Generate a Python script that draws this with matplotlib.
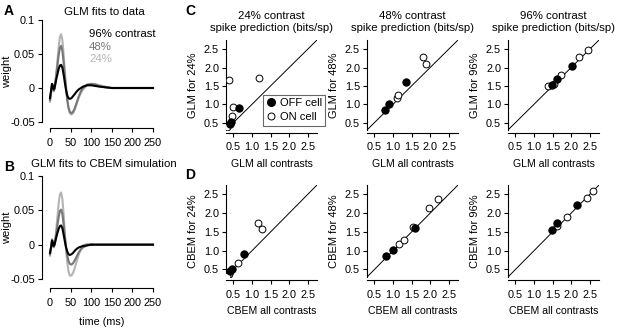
import matplotlib
matplotlib.use('Agg')
import matplotlib.pyplot as plt
from matplotlib.lines import Line2D

# figure size in pixels
W, H = 617, 329

plt.rcParams['font.family'] = ['Liberation Sans', 'DejaVu Sans']
plt.rcParams['font.size'] = 7.5

# ---- temporal filters (panels A and B) ----
t_ms = [0, 3, 5, 7, 9, 11, 13, 15, 18, 21, 24, 27, 30, 33, 36, 39, 42, 45, 48, 52,
        56, 60, 65, 70, 75, 80, 90, 100, 110, 120, 135, 150, 200, 250]

glm_data_96 = [-0.015, -0.002, 0.006, 0.003, -0.002, 0.000, 0.006, 0.012, 0.020, 0.028,
               0.033, 0.034, 0.030, 0.020, 0.008, -0.003, -0.011, -0.015, -0.016, -0.015,
               -0.012, -0.009, -0.005, -0.002, 0.000, 0.002, 0.004, 0.004, 0.003, 0.002,
               0.001, 0.000, 0.000, 0.000]
glm_data_48 = [-0.018, -0.004, 0.006, 0.002, -0.004, -0.001, 0.008, 0.018, 0.033, 0.048,
               0.059, 0.062, 0.055, 0.038, 0.018, -0.002, -0.018, -0.029, -0.035, -0.037,
               -0.035, -0.030, -0.021, -0.012, -0.005, 0.000, 0.005, 0.006, 0.005, 0.003,
               0.001, 0.000, 0.000, 0.000]
glm_data_24 = [-0.020, -0.005, 0.006, 0.002, -0.005, -0.002, 0.008, 0.020, 0.040, 0.060,
               0.075, 0.079, 0.071, 0.050, 0.025, 0.002, -0.017, -0.030, -0.037, -0.039,
               -0.037, -0.032, -0.023, -0.014, -0.007, -0.002, 0.004, 0.006, 0.006, 0.004,
               0.002, 0.000, 0.000, 0.000]

glm_sim_96 = [-0.012, -0.002, 0.006, 0.003, -0.002, 0.000, 0.005, 0.010, 0.017, 0.023,
              0.027, 0.028, 0.024, 0.015, 0.005, -0.004, -0.010, -0.014, -0.015, -0.014,
              -0.012, -0.009, -0.006, -0.004, -0.003, -0.002, -0.001, 0.000, 0.000, 0.000,
              0.000, 0.000, 0.000, 0.000]
glm_sim_48 = [-0.014, -0.003, 0.007, 0.003, -0.003, 0.000, 0.007, 0.015, 0.028, 0.040,
              0.049, 0.051, 0.045, 0.030, 0.012, -0.004, -0.016, -0.024, -0.028, -0.029,
              -0.027, -0.023, -0.017, -0.011, -0.007, -0.004, -0.001, 0.000, 0.000, 0.000,
              0.000, 0.000, 0.000, 0.000]
glm_sim_24 = [-0.016, -0.004, 0.008, 0.003, -0.004, 0.000, 0.009, 0.021, 0.040, 0.060,
              0.073, 0.076, 0.067, 0.045, 0.018, -0.007, -0.026, -0.039, -0.045, -0.045,
              -0.041, -0.034, -0.024, -0.014, -0.006, -0.001, 0.001, 0.001, 0.000, 0.000,
              0.000, 0.000, 0.000, 0.000]

# ---- spike prediction (bits/sp), panels C and D ----
glm24_off_x = [0.65, 0.43, 0.42]
glm24_off_y = [0.90, 0.52, 0.45]
glm24_on_x = [0.38, 1.20, 0.48, 0.47, 0.34]
glm24_on_y = [1.65, 1.72, 0.92, 0.68, 0.38]

glm48_off_x = [0.78, 0.90, 1.35]
glm48_off_y = [0.85, 1.00, 1.60]
glm48_on_x = [1.10, 1.13, 1.82, 1.90]
glm48_on_y = [1.18, 1.26, 2.30, 2.10]

glm96_off_x = [1.48, 1.62, 2.02]
glm96_off_y = [1.52, 1.70, 2.03]
glm96_on_x = [1.39, 1.55, 1.72, 2.20, 2.45]
glm96_on_y = [1.49, 1.56, 1.80, 2.28, 2.48]

cbem24_off_x = [0.78, 0.45, 0.42]
cbem24_off_y = [0.90, 0.50, 0.45]
cbem24_on_x = [1.15, 1.28, 0.63, 0.38, 0.34]
cbem24_on_y = [1.75, 1.57, 0.68, 0.37, 0.33]

cbem48_off_x = [0.80, 1.00, 1.60]
cbem48_off_y = [0.86, 1.02, 1.60]
cbem48_on_x = [1.15, 1.30, 1.55, 1.97, 2.22]
cbem48_on_y = [1.18, 1.28, 1.62, 2.15, 2.37]

cbem96_off_x = [1.49, 1.62, 2.16]
cbem96_off_y = [1.55, 1.73, 2.21]
cbem96_on_x = [1.63, 1.90, 2.42, 2.60]
cbem96_on_y = [1.65, 1.90, 2.40, 2.60]

contrast_labels = ['24%', '48%', '96%']
bits_ticks = [0.5, 1.0, 1.5, 2.0, 2.5]

col96, col48, col24 = 'black', '#777777', '#b4b4b4'


def box(l, t, r, b):
    # pixel box -> figure fraction
    return [l / W, 1 - b / H, (r - l) / W, (b - t) / H]


def style_axes(ax):
    for s in ['top', 'right']:
        ax.spines[s].set_visible(False)
    for s in ['left', 'bottom']:
        ax.spines[s].set_linewidth(0.8)
    ax.tick_params(length=3, width=0.8, labelsize=7.8)
    ax.tick_params(axis='y', pad=2)
    ax.tick_params(axis='x', pad=4)


fig = plt.figure(figsize=(W / 100, H / 100), dpi=100)


def filter_panel(rect, ylim, curves):
    ax = fig.add_axes(box(*rect))
    for y, c in curves:
        ax.plot(t_ms, y, color=c, lw=1.5)
    ax.set_xlim(-19.4, 259.7)
    ax.set_ylim(*ylim)
    style_axes(ax)
    ax.spines['left'].set_bounds(-0.05, 0.1)
    ax.spines['bottom'].set_bounds(0, 250)
    ax.set_yticks([-0.05, 0, 0.05, 0.1])
    ax.set_yticklabels(['-0.05', '0', '0.05', '0.1'])
    ax.set_xticks([0, 50, 100, 150, 200, 250])
    return ax


axA = filter_panel((42, 18, 157, 128), (-0.0588, 0.1029),
                   [(glm_data_24, col24), (glm_data_48, col48), (glm_data_96, col96)])
axB = filter_panel((42, 174, 157, 288), (-0.0631, 0.1029),
                   [(glm_sim_24, col24), (glm_sim_48, col48), (glm_sim_96, col96)])

fig.text(104 / W, 1 - 12 / H, 'GLM fits to data', ha='center', va='center', fontsize=8.2)
fig.text(104 / W, 1 - 164 / H, 'GLM fits to CBEM simulation', ha='center', va='center', fontsize=8.2)
fig.text(89 / W, 1 - 34 / H, '96% contrast', color=col96, va='center', fontsize=8.2)
fig.text(89 / W, 1 - 47 / H, '48%', color=col48, va='center', fontsize=8.2)
fig.text(89 / W, 1 - 59 / H, '24%', color=col24, va='center', fontsize=8.2)
fig.text(7 / W, 1 - 72 / H, 'weight', rotation=90, ha='center', va='center', fontsize=8)
fig.text(7 / W, 1 - 228 / H, 'weight', rotation=90, ha='center', va='center', fontsize=8)
fig.text(102 / W, 1 - 322 / H, 'time (ms)', ha='center', va='center', fontsize=7.8)

# panel letters
for letter, x, y in [('A', 9, 11), ('B', 9, 167), ('C', 190, 11), ('D', 190, 175)]:
    fig.text(x / W, 1 - y / H, letter, ha='center', va='center', fontsize=10, fontweight='bold')

# scatter panels
scatter_data = [
    [(glm24_off_x, glm24_off_y, glm24_on_x, glm24_on_y),
     (glm48_off_x, glm48_off_y, glm48_on_x, glm48_on_y),
     (glm96_off_x, glm96_off_y, glm96_on_x, glm96_on_y)],
    [(cbem24_off_x, cbem24_off_y, cbem24_on_x, cbem24_on_y),
     (cbem48_off_x, cbem48_off_y, cbem48_on_x, cbem48_on_y),
     (cbem96_off_x, cbem96_off_y, cbem96_on_x, cbem96_on_y)],
]
col_left = [226, 367, 508]
row_top = [(40, 130), (185, 277)]
model_names = ['GLM', 'CBEM']

for r, (t, b) in enumerate(row_top):
    for c, l in enumerate(col_left):
        ax = fig.add_axes(box(l, t, l + 91, b))
        offx, offy, onx, ony = scatter_data[r][c]
        ax.axline((0.5, 0.5), slope=1, color='black', lw=0.7)
        ax.scatter(onx, ony, s=24, facecolor='white', edgecolor='black', linewidths=0.7, zorder=3)
        ax.scatter(offx, offy, s=28, facecolor='black', edgecolor='black', linewidths=0.7, zorder=4)
        ax.set_xlim(0.3, 2.75)
        ax.set_ylim(0.3, 2.75)
        ax.set_xticks(bits_ticks)
        ax.set_yticks(bits_ticks)
        style_axes(ax)
        ax.spines['bottom'].set_position(('outward', 2))
        ax.set_ylabel(f'{model_names[r]} for {contrast_labels[c]}', fontsize=8, labelpad=4)
        ax.set_xlabel(f'{model_names[r]} all contrasts', fontsize=7.6, labelpad=5)
        if r == 0:
            ax.set_title(f'{contrast_labels[c]} contrast\nspike prediction (bits/sp)',
                         fontsize=8.2, pad=6.5, linespacing=1.25)
        if r == 0 and c == 0:
            handles = [Line2D([], [], ls='none', marker='o', ms=5.5, mfc='black', mec='black'),
                       Line2D([], [], ls='none', marker='o', ms=5, mfc='white', mec='black', mew=0.7)]
            leg = ax.legend(handles, ['OFF cell', 'ON cell'], loc='upper left',
                            bbox_to_anchor=(263 / W, 1 - 95 / H), bbox_transform=fig.transFigure,
                            frameon=True, fancybox=False, edgecolor='#444444', fontsize=8,
                            handlelength=0.8, handletextpad=0.4, borderpad=0.3,
                            labelspacing=0.35, borderaxespad=0)
            leg.get_frame().set_linewidth(0.8)

fig.savefig('out.png', dpi=100)
